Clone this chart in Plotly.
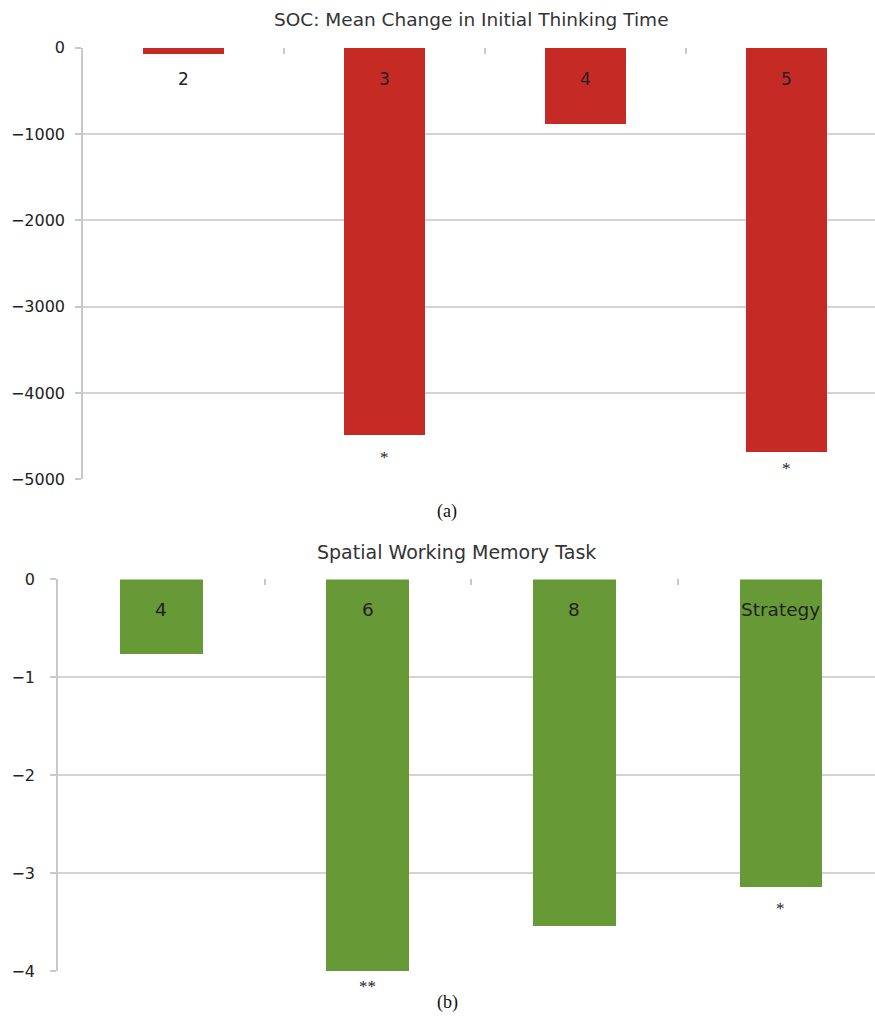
import plotly.graph_objects as go

# ---- data ----
soc_categories = ["2", "3", "4", "5"]
soc_values = [-70, -4480, -880, -4675]
soc_signif = ["", "*", "", "*"]

swm_categories = ["4", "6", "8", "Strategy"]
swm_values = [-0.77, -4.0, -3.54, -3.15]
swm_signif = ["", "**", "", "*"]

soc_ticks = [0, -1000, -2000, -3000, -4000, -5000]
swm_ticks = [0, -1, -2, -3, -4]

RED = "#C62A25"
GREEN = "#679A37"
GRID = "#d3d3d3"
W, H = 875, 1025

# pixel offsets of significance markers below bar ends (style)
soc_star_shift = [0, -23, 0, -17]
swm_star_shift = [0, -15, 0, -21]

fig = go.Figure()
xpos = list(range(4))

fig.add_trace(go.Bar(x=xpos, y=soc_values, marker=dict(color=RED, line=dict(width=0)),
                     width=0.4, xaxis="x", yaxis="y", showlegend=False, hoverinfo="skip"))
fig.add_trace(go.Bar(x=xpos, y=swm_values, marker=dict(color=GREEN, line=dict(width=0)),
                     width=0.4, xaxis="x2", yaxis="y2", showlegend=False, hoverinfo="skip"))


def py(p):
    # target pixel row -> paper fraction (compensating observed vertical offset/scale)
    q = (p - 8.4) / 0.98
    return 1 - q / H


def px(p):
    return p / W


font = "DejaVu Sans, Arial, sans-serif"
serif = "Liberation Serif, Times New Roman, serif"
axis_common = dict(showgrid=True, gridcolor=GRID, gridwidth=1.5, zeroline=False,
                   showline=True, linecolor="#c8c8c8", linewidth=1.5,
                   ticks="outside", ticklen=6, tickcolor="#c8c8c8", tickwidth=1.5,
                   tickfont=dict(family=font, size=16, color="#222"), fixedrange=True)
xaxis_common = dict(showgrid=False, zeroline=False, showline=False, side="top",
                    ticks="inside", ticklen=6, tickcolor="#c8c8c8", tickwidth=1.5,
                    tickmode="array", tickvals=[0.5, 1.5, 2.5, 3.5], showticklabels=False,
                    fixedrange=True)

fig.update_layout(
    width=W, height=H,
    margin=dict(l=0, r=0, t=0, b=0),
    paper_bgcolor="white", plot_bgcolor="white",
    bargap=0,
    xaxis=dict(domain=[px(83), 1], range=[-0.5, 3.44], anchor="y", **xaxis_common),
    yaxis=dict(domain=[py(478), py(47)], range=[-5000, 0], anchor="x",
               tickmode="array", tickvals=soc_ticks, ticklabelstandoff=7, **axis_common),
    xaxis2=dict(domain=[px(58), 1], range=[-0.5, 3.456], anchor="y2", **xaxis_common),
    yaxis2=dict(domain=[py(969), py(578)], range=[-4, 0], anchor="x2",
                tickmode="array", tickvals=swm_ticks, ticklabelstandoff=12, **axis_common),
)

ann = []
# titles
ann.append(dict(text="SOC: Mean Change in Initial Thinking Time", xref="paper", yref="paper",
                x=px(471), y=py(19), showarrow=False, xanchor="center", yanchor="middle",
                font=dict(family=font, size=18.5, color="#333")))
ann.append(dict(text="Spatial Working Memory Task", xref="paper", yref="paper",
                x=px(457), y=py(551), showarrow=False, xanchor="center", yanchor="middle",
                font=dict(family=font, size=19, color="#333")))
# captions
ann.append(dict(text="(a)", xref="paper", yref="paper", x=px(447), y=py(510), showarrow=False,
                xanchor="center", yanchor="middle", font=dict(family=serif, size=18, color="#111")))
ann.append(dict(text="(b)", xref="paper", yref="paper", x=px(447), y=0, showarrow=False,
                xanchor="center", yanchor="bottom", yshift=0,
                font=dict(family=serif, size=18, color="#111")))

for i, c in enumerate(soc_categories):
    ann.append(dict(text=c, xref="x", yref="y", x=xpos[i], y=0, yshift=-31, showarrow=False,
                    xanchor="center", yanchor="middle", font=dict(family=font, size=17, color="#222")))
    if soc_signif[i]:
        ann.append(dict(text=soc_signif[i], xref="x", yref="y", x=xpos[i], y=soc_values[i],
                        yshift=soc_star_shift[i], showarrow=False, xanchor="center", yanchor="middle",
                        font=dict(family=serif, size=17, color="#222")))

for i, c in enumerate(swm_categories):
    ann.append(dict(text=c, xref="x2", yref="y2", x=xpos[i], y=0, yshift=-30, showarrow=False,
                    xanchor="center", yanchor="middle", font=dict(family=font, size=18.5, color="#222")))
    if swm_signif[i]:
        ann.append(dict(text=swm_signif[i], xref="x2", yref="y2", x=xpos[i], y=swm_values[i],
                        yshift=swm_star_shift[i], showarrow=False, xanchor="center", yanchor="middle",
                        font=dict(family=serif, size=17, color="#222")))

fig.update_layout(annotations=ann)
fig.write_html("out.html", post_script="document.body.style.margin='0';document.body.style.overflow='hidden';")
